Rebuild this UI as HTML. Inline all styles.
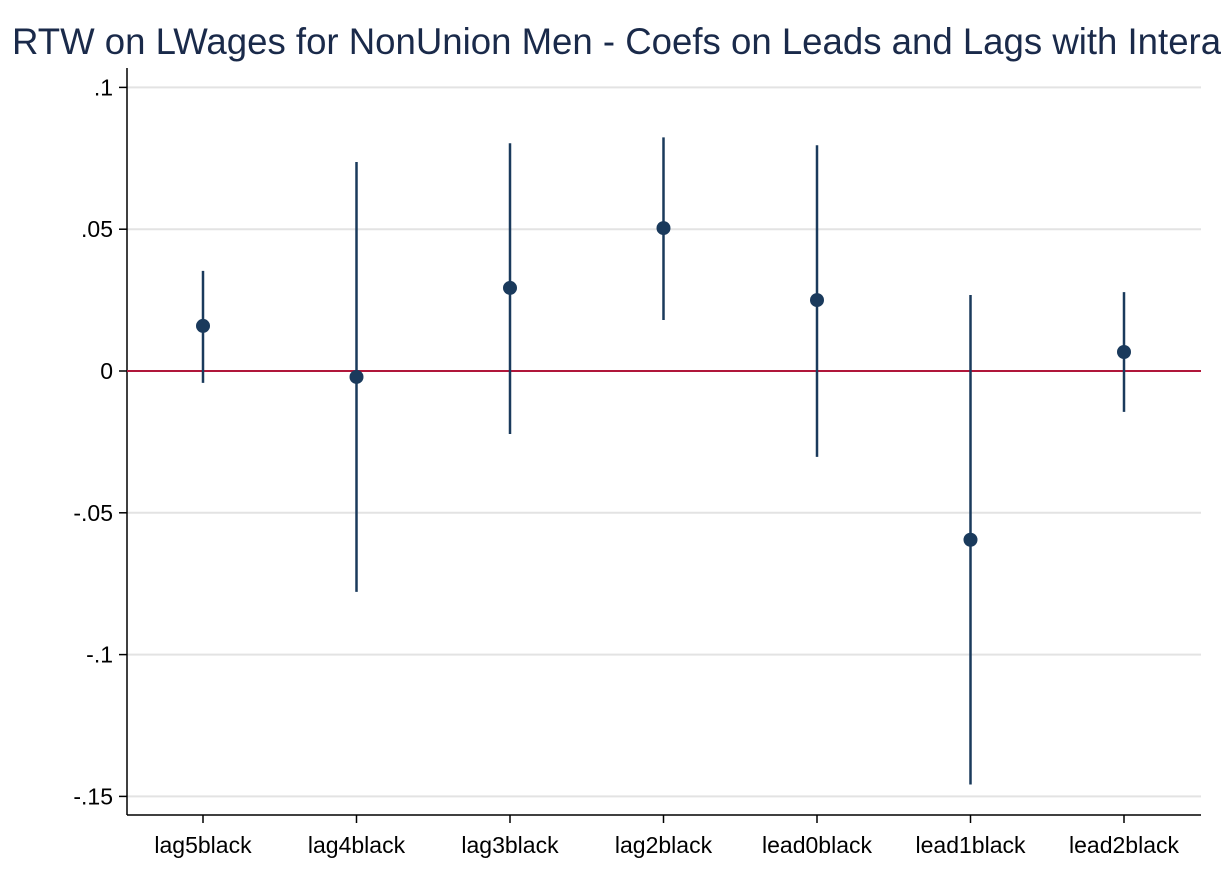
<!DOCTYPE html>
<html><head><meta charset="utf-8"><style>
body{margin:0;background:#fff;}
svg{display:block;font-family:"Liberation Sans",sans-serif;}
</style></head><body>
<svg id="chart" width="1221" height="888">
<text x="12" y="54" font-size="36.6" fill="#1a2a4a">RTW on LWages for NonUnion Men - Coefs on Leads and Lags with Interactions</text>
<g id="grid"></g><g id="axes"></g><g id="marks"></g>
</svg>
<script>
const categories=["lag5black","lag4black","lag3black","lag2black","lead0black","lead1black","lead2black"];
const coefs=[0.0159,-0.0021,0.0293,0.0504,0.025,-0.0595,0.0067];
const upper=[0.0353,0.0737,0.0803,0.0824,0.0796,0.0268,0.0278];
const lower=[-0.0042,-0.0779,-0.0222,0.018,-0.0303,-0.1458,-0.0144];
const yTicks=[0.1,0.05,0,-0.05,-0.1,-0.15];
const yTickLabels=[".1",".05","0","-.05","-.1","-.15"];
const NS="http://www.w3.org/2000/svg";
const y=v=>371-v*2836;
const x=i=>203+i*153.5;
function mk(t,a,p){const e=document.createElementNS(NS,t);for(const k in a)e.setAttribute(k,a[k]);p.appendChild(e);return e;}
const grid=document.getElementById('grid'),axes=document.getElementById('axes'),marks=document.getElementById('marks');
yTicks.forEach((v,i)=>{
 const g=mk('line',{x1:127,x2:1201,y1:y(v),y2:y(v),stroke:'#e3e3e3','stroke-width':2},grid);
 
 
 const t=mk('line',{x1:119,x2:127,y1:y(v),y2:y(v),stroke:'#000','stroke-width':1.5},axes);
 
 
 const l=mk('text',{x:113,y:y(v)+8,'font-size':23,'text-anchor':'end',fill:'#000'},axes);
 l.textContent=yTickLabels[i];
 
 
});
const ya=mk('line',{x1:127,x2:127,y1:68,y2:815,stroke:'#000','stroke-width':1.5},axes);


const xa=mk('line',{x1:127,x2:1201,y1:815,y2:815,stroke:'#000','stroke-width':1.5},axes);


const zl=mk('line',{x1:127,x2:1201,y1:y(0),y2:y(0),stroke:'#b0173a','stroke-width':2},marks);


categories.forEach((c,i)=>{
 const t=mk('line',{x1:x(i),x2:x(i),y1:815,y2:823,stroke:'#000','stroke-width':1.5},axes);
 
 
 const l=mk('text',{x:x(i),y:853,'font-size':23,'text-anchor':'middle',fill:'#000'},axes);
 l.textContent=c;
 
 
 const ci=mk('line',{x1:x(i),x2:x(i),y1:y(upper[i]),y2:y(lower[i]),stroke:'#1a3a5c','stroke-width':2.5},marks);
 
 
 const p=mk('circle',{cx:x(i),cy:y(coefs[i]),r:7,fill:'#1a3a5c'},marks);
 
 
});
</script>
</body></html>
